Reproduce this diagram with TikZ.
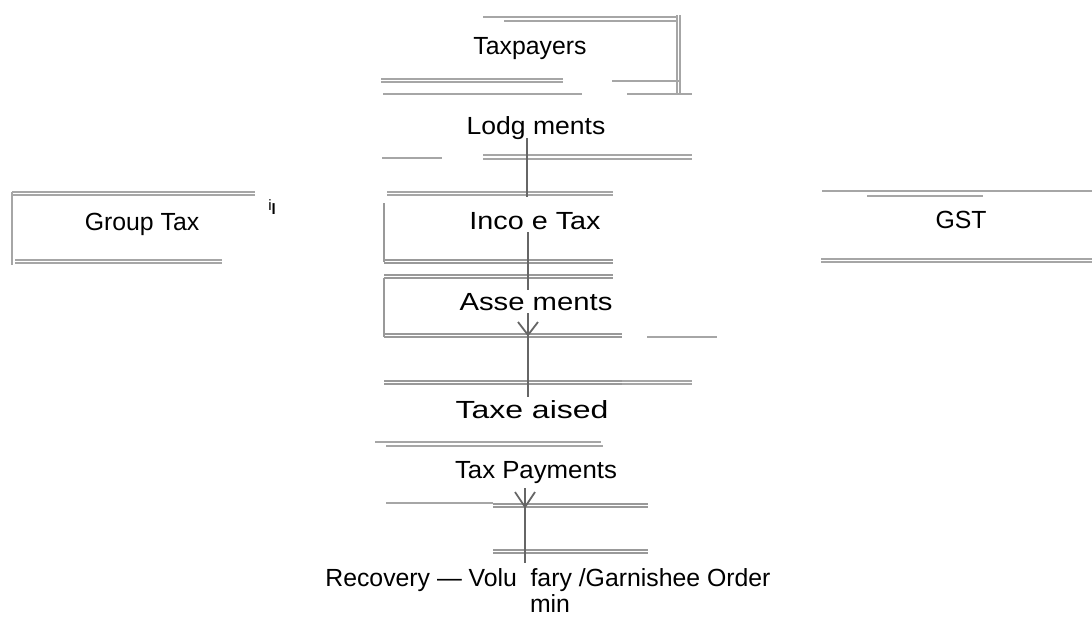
\documentclass[tikz,border=0pt]{standalone}
\usepackage{fontspec}
\setmainfont{Liberation Sans}
\begin{document}
\begin{tikzpicture}[x=0.5pt,y=-0.5pt,
  rule/.style={draw=black!35,line width=0.7pt},
  scan/.style={draw=black!40,line width=0.9pt},
  conn/.style={draw=black!60,line width=0.9pt},
  lbl/.style={inner sep=0pt,font=\fontsize{12.4}{14}\selectfont}]
\useasboundingbox[fill=white] (0,0) rectangle (1092,616);

% ---------- Taxpayers ----------
\node[lbl] (taxpayers) at (530,49) {Taxpayers};
\draw[rule] (483,17) -- (678,17);
\draw[rule] (504,21) -- (678,21);
\draw[rule] (677,15) -- (677,95);
\draw[rule] (680,15) -- (680,95);
\draw[rule] (381,79) -- (563,79);
\draw[rule] (381,82) -- (563,82);
\draw[rule] (612,81) -- (680,81);
\draw[rule] (383,94) -- (582,94);
\draw[rule] (627,94) -- (692,94);

% ---------- Lodgments ----------
\node[lbl,xscale=1.07] (lodg) at (536,128) {Lodg ments};
\draw[rule] (382,158) -- (442,158);
\draw[rule] (483,155) -- (692,155);
\draw[rule] (483,159) -- (692,159);
\draw[rule] (387,192) -- (613,192);
\draw[rule] (387,195) -- (613,195);
\coordinate (c1a) at (527,138);
\coordinate (c1b) at (527,197);
\draw[conn] (c1a) -- (c1b);

% ---------- Group Tax ----------
\node[lbl] (group) at (142,224) {Group Tax};
\draw[rule] (12,192) -- (255,192);
\draw[rule] (12,195) -- (255,195);
\draw[rule] (12,192) -- (12,265);
\draw[rule] (15,260) -- (222,260);
\draw[rule] (15,263) -- (222,263);
\node[inner sep=0pt,font=\fontsize{7.5}{8}\selectfont,anchor=west] (mark) at (268,207) {i\raisebox{-2pt}{\bfseries l}};

% ---------- GST ----------
\node[lbl] (gst) at (961,220) {GST};
\draw[rule] (822,191) -- (1092,191);
\draw[rule] (867,196) -- (983,196);
\draw[rule] (821,259) -- (1092,259);
\draw[rule] (821,262) -- (1092,262);

% ---------- Income Tax ----------
\node[lbl,xscale=1.16] (income) at (535,221) {Inco e Tax};
\draw[scan] (384,203) -- (384,262);
\draw[scan] (384,260) -- (613,260);
\draw[scan] (384,263) -- (613,263);
\draw[scan] (384,275) -- (613,275);
\draw[scan] (384,278) -- (613,278);

% ---------- Assessments ----------
\node[lbl,xscale=1.18] (assess) at (536,302) {Asse ments};
\draw[scan] (384,278) -- (384,337);
\draw[scan] (384,334) -- (622,334);
\draw[scan] (384,337) -- (622,337);
\draw[rule] (647,337) -- (717,337);
\draw[scan] (384,381) -- (622,381);
\draw[scan] (384,384) -- (622,384);
\draw[rule] (622,381) -- (692,381);
\draw[rule] (622,384) -- (692,384);
\coordinate (c2a) at (528,232);
\coordinate (c2b) at (528,290);
\draw[conn] (c2a) -- (c2b);
\coordinate (c3a) at (528,313);
\coordinate (c3b) at (528,397);
\draw[conn] (c3a) -- (c3b);
\draw[conn] (518,322) -- (528,335) -- (538,322);

% ---------- Taxes raised ----------
\node[lbl,xscale=1.29] (raised) at (532,410) {Taxe aised};
\draw[rule] (375,442) -- (601,442);
\draw[rule] (386,446) -- (603,446);

% ---------- Tax Payments ----------
\node[lbl,xscale=1.04] (payments) at (536,473) {Tax Payments};
\draw[rule] (386,503) -- (493,503);
\draw[scan] (493,504) -- (648,504);
\draw[scan] (493,507) -- (648,507);
\draw[scan] (493,550) -- (648,550);
\draw[scan] (493,553) -- (648,553);
\coordinate (c4a) at (525,488);
\coordinate (c4b) at (525,563);
\draw[conn] (c4a) -- (c4b);
\draw[conn] (515,492) -- (525,507) -- (535,492);

% ---------- Recovery ----------
\node[lbl,anchor=west] (recovery) at (325,580) {Recovery — Volu\hspace{0.55em}fary /Garnishee Order};
\node[lbl] (min) at (550,604) {min};
\end{tikzpicture}
\end{document}
